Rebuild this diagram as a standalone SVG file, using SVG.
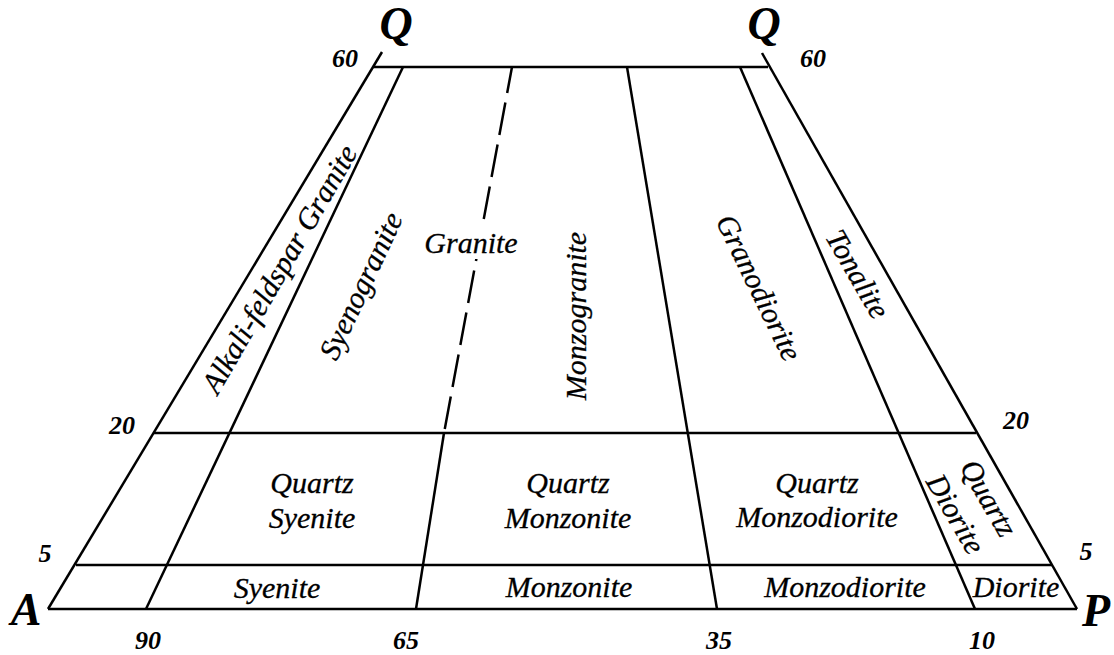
<svg xmlns="http://www.w3.org/2000/svg" width="1114" height="655" viewBox="0 0 1114 655">
<style>
.ln{stroke:#000;stroke-width:2.5;fill:none;stroke-linecap:butt}
.dash{stroke-dasharray:33 9.7;stroke-dashoffset:6.5}
.lbl{font-family:"Liberation Serif","Times New Roman",serif;font-style:italic;font-size:30px;fill:#000;stroke:#000;stroke-width:0.3;text-anchor:middle}
.num{font-family:"Liberation Serif","Times New Roman",serif;font-style:italic;font-weight:bold;font-size:26px;fill:#000;text-anchor:middle}
.apex{font-family:"Liberation Serif","Times New Roman",serif;font-style:italic;font-weight:bold;font-size:46px;fill:#000;text-anchor:middle}
</style>
<rect width="1114" height="655" fill="#fff"/>
<g id="connectors">
<line class="ln" x1="382" y1="52" x2="48" y2="609"/>
<line class="ln" x1="762" y1="53" x2="1077" y2="609"/>
<line class="ln" x1="373" y1="67" x2="768" y2="67"/>
<line class="ln" x1="153" y1="433" x2="976" y2="433"/>
<line class="ln" x1="76" y1="565" x2="1052" y2="565"/>
<line class="ln" x1="48" y1="609" x2="1077" y2="609"/>
<line class="ln" x1="403" y1="67" x2="146" y2="609"/>
<line class="ln dash" x1="512" y1="67" x2="444" y2="433"/>
<line class="ln" x1="444" y1="433" x2="416" y2="609"/>
<line class="ln" x1="627" y1="67" x2="717" y2="609"/>
<line class="ln" x1="740" y1="67" x2="975" y2="609"/>
</g>
<g id="corners">
<text class="apex" x="396" y="39">Q</text>
<text class="apex" x="764" y="39">Q</text>
<text class="apex" x="26" y="625">A</text>
<text class="apex" x="1096" y="626">P</text>
</g>
<g id="scale">
<text class="num" x="345" y="67">60</text>
<text class="num" x="813" y="67">60</text>
<text class="num" x="122" y="434">20</text>
<text class="num" x="1016" y="429">20</text>
<text class="num" x="45" y="562">5</text>
<text class="num" x="1086" y="560">5</text>
<text class="num" x="148" y="649">90</text>
<text class="num" x="406" y="649">65</text>
<text class="num" x="719" y="649">35</text>
<text class="num" x="982" y="649">10</text>
</g>
<g id="alkali-feldspar-granite"><text class="lbl" transform="translate(288,274) rotate(-60)">Alkali-feldspar Granite</text></g>
<g id="syenogranite"><text class="lbl" transform="translate(370,290) rotate(-65)">Syenogranite</text></g>
<g id="granite"><rect x="423" y="227" width="97" height="32" fill="#fff"/><text class="lbl" x="471" y="253">Granite</text></g>
<g id="monzogranite"><text class="lbl" transform="translate(586,316) rotate(-90)">Monzogranite</text></g>
<g id="granodiorite"><text class="lbl" transform="translate(750,292) rotate(64)">Granodiorite</text></g>
<g id="tonalite"><text class="lbl" transform="translate(849,279) rotate(60)">Tonalite</text></g>
<g id="quartz-syenite"><text class="lbl" x="312" y="493">Quartz</text><text class="lbl" x="312" y="528">Syenite</text></g>
<g id="quartz-monzonite"><text class="lbl" x="568" y="493">Quartz</text><text class="lbl" x="568" y="528">Monzonite</text></g>
<g id="quartz-monzodiorite"><text class="lbl" x="817" y="493">Quartz</text><text class="lbl" x="817" y="527">Monzodiorite</text></g>
<g id="quartz-diorite"><text class="lbl" transform="translate(980,503) rotate(60)">Quartz</text><text class="lbl" transform="translate(947,519) rotate(60)">Diorite</text></g>
<g id="syenite"><text class="lbl" x="277" y="598">Syenite</text></g>
<g id="monzonite"><text class="lbl" x="569" y="597">Monzonite</text></g>
<g id="monzodiorite"><text class="lbl" x="845" y="597">Monzodiorite</text></g>
<g id="diorite"><text class="lbl" x="1016" y="597">Diorite</text></g>
</svg>
